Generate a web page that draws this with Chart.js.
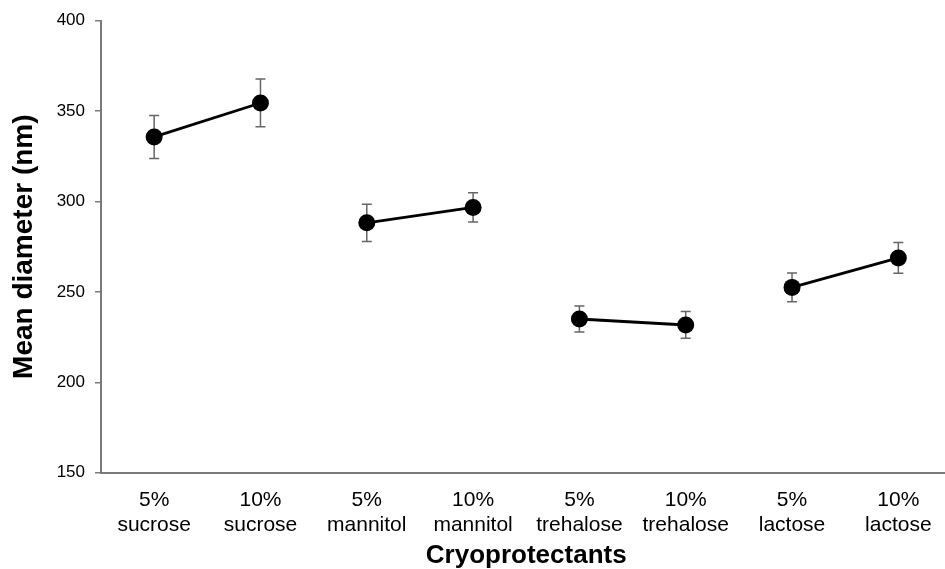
<!DOCTYPE html>
<html>
<head>
<meta charset="utf-8">
<script src="https://cdn.jsdelivr.net/npm/chart.js@4"></script>
<style>
  html, body { margin: 0; padding: 0; background: #fff; overflow: hidden; }
  #wrap { width: 960px; height: 569px; }
</style>
</head>
<body>
<div id="wrap"><canvas id="chart" width="960" height="569"></canvas></div>
<script>
const categories = [
  ['5%', 'sucrose'], ['10%', 'sucrose'],
  ['5%', 'mannitol'], ['10%', 'mannitol'],
  ['5%', 'trehalose'], ['10%', 'trehalose'],
  ['5%', 'lactose'], ['10%', 'lactose']
];
const meanDiameter = [335.7, 354.5, 288.2, 296.7, 235.0, 231.7, 252.5, 268.8];
const errorSD = [11.9, 13.2, 10.3, 8.1, 7.2, 7.4, 8.0, 8.5];
const yTicks = [150, 200, 250, 300, 350, 400];

const FONT = "'Liberation Sans', Arial, sans-serif";
const AXIS_GREY = '#7a7a7a';

// draw error bars under the markers
const errorBars = {
  id: 'errorBars',
  beforeDatasetsDraw(chart) {
    const { ctx, scales: { x, y } } = chart;
    ctx.save();
    ctx.strokeStyle = '#666';
    ctx.lineWidth = 1.5;
    meanDiameter.forEach((m, i) => {
      const px = x.getPixelForValue(i);
      const top = y.getPixelForValue(m + errorSD[i]);
      const bot = y.getPixelForValue(m - errorSD[i]);
      ctx.beginPath();
      ctx.moveTo(px, top); ctx.lineTo(px, bot);
      ctx.moveTo(px - 5, top); ctx.lineTo(px + 5, top);
      ctx.moveTo(px - 5, bot); ctx.lineTo(px + 5, bot);
      ctx.stroke();
    });
    ctx.restore();
  }
};

new Chart(document.getElementById('chart'), {
  type: 'line',
  data: {
    labels: categories,
    datasets: [{
      data: meanDiameter,
      borderColor: '#000',
      borderWidth: 2.8,
      backgroundColor: '#000',
      pointRadius: 8.5,
      pointBackgroundColor: '#000',
      pointBorderWidth: 0,
      // only pairs (5% -> 10%) are joined
      segment: { borderColor: c => (c.p0DataIndex % 2 === 0 ? '#000' : 'rgba(0,0,0,0)') }
    }]
  },
  options: {
    responsive: false,
    animation: false,
    layout: { padding: { top: 20.7, right: 3, left: 0, bottom: 0 } },
    plugins: { legend: { display: false }, tooltip: { enabled: false } },
    scales: {
      x: {
        type: 'category',
        offset: true,
        grid: { display: false },
        border: { display: true, color: AXIS_GREY, width: 2 },
        ticks: { color: '#000', padding: 7, maxRotation: 0, autoSkip: false,
                 font: { family: FONT, size: 21, lineHeight: 1.2 } },
        title: { display: true, text: 'Cryoprotectants', color: '#000',
                 font: { family: FONT, size: 26, weight: 'bold', lineHeight: 1.0 },
                 padding: { top: 0, bottom: 0 } },
        afterFit(scale) { scale.height = 96.3; }
      },
      y: {
        min: 150,
        max: 400,
        afterBuildTicks(scale) { scale.ticks = yTicks.map(v => ({ value: v })); },
        grid: { drawOnChartArea: false, drawTicks: true, tickLength: 6, color: AXIS_GREY, lineWidth: 1.5 },
        border: { display: true, color: AXIS_GREY, width: 2 },
        ticks: { color: '#000', padding: 10, font: { family: FONT, size: 17 } },
        title: { display: true, text: 'Mean diameter (nm)', color: '#000',
                 font: { family: FONT, size: 28, weight: 'bold', lineHeight: 1.0 },
                 padding: { top: 10, bottom: 0 } },
        afterFit(scale) { scale.width = 101; }
      }
    }
  },
  plugins: [errorBars]
});
</script>
</body>
</html>
